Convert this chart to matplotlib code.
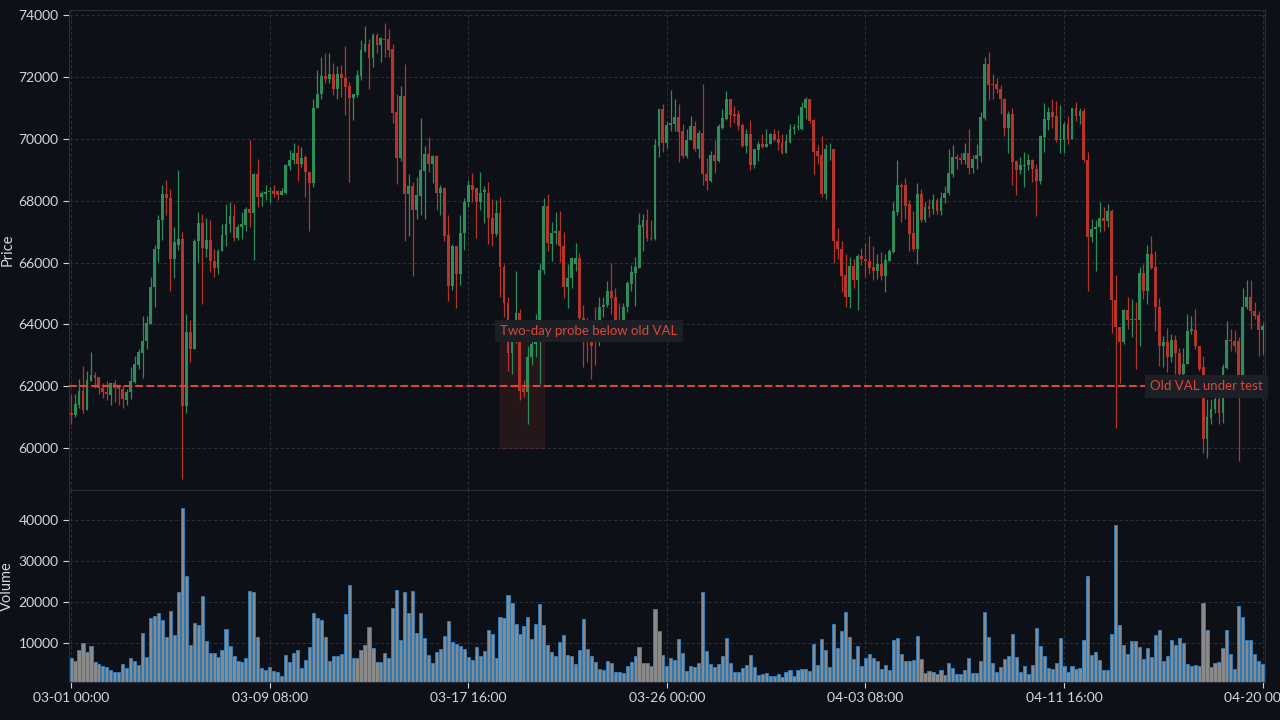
import matplotlib
matplotlib.use("Agg")
import matplotlib.pyplot as plt
import matplotlib.dates as mdates
from matplotlib.patches import Rectangle
import numpy as np
import pandas as pd

# 4h candles, 03-01 00:00 .. 04-20 00:00
times = pd.date_range("2024-03-01 00:00", "2024-04-20 00:00", freq="4h")

opens = [
    61130, 61070, 61400, 61850, 61230, 62170, 62370, 62300, 61960, 61830,
    61720, 62090, 61970, 61900, 61560, 61830, 62150, 62690, 63090, 63450,
    64010, 65200, 66440, 67360, 68220, 68090, 66100, 66570, 66760, 61360,
    63740, 63220, 66680, 67290, 66440, 66740, 66060, 65810, 66380, 66880,
    67230, 67490, 66790, 67140, 67200, 67740, 67600, 68850, 68120, 68230,
    68280, 68300, 68300, 68170, 68250, 69120, 69300, 69550, 69190, 69400,
    68920, 68570, 71010, 71460, 72020, 71930, 72090, 71610, 72110, 71980,
    71700, 71320, 71410, 72020, 72830, 73060, 72620, 73350, 73030, 73240,
    73210, 72890, 70860, 69380, 71380, 68200, 68460, 67710, 68150, 68960,
    69500, 69170, 69440, 68240, 68400, 66890, 65250, 66550, 65630, 66950,
    67950, 68520, 68400, 67950, 68280, 68250, 67440, 66930, 67610, 65870,
    64700, 63060, 63600, 64370, 61960, 61830, 62930, 63360, 63900, 65760,
    67840, 66610, 66960, 67030, 66550, 65200, 65500, 65950, 66150, 64200,
    63700, 63500, 63800, 63500, 64570, 64640, 65090, 64870, 64100, 63900,
    64560, 65310, 65660, 65810, 67160, 67360, 66800, 66760, 69770, 70950,
    69860, 70430, 70470, 70690, 70240, 69430, 69970, 70400, 69680, 70200,
    68870, 68620, 69460, 69270, 70360, 70640, 71280, 70790, 70790, 70440,
    69760, 70140, 69140, 69630, 69840, 69750, 69820, 70170, 70000, 69860,
    69550, 69900, 70300, 70380, 70330, 71010, 71280, 70600, 69600, 69460,
    68200, 69660, 69660, 66710, 66440, 65610, 64870, 65900, 65440, 66220,
    66130, 66060, 65850, 65740, 65960, 65580, 66060, 66330, 67630, 68510,
    68490, 67880, 66950, 66440, 68200, 67380, 67820, 67740, 68010, 67660,
    68090, 68240, 68850, 69410, 69390, 69330, 69540, 69050, 69360, 69440,
    70670, 72410, 71780, 71760, 71620, 71280, 70350, 70790, 69280, 68980,
    69120, 69140, 69330, 69030, 68620, 70060, 70600, 70850, 70730, 69960,
    69970, 70470, 70000, 70980, 70730, 70890, 69330, 66820, 67090, 67140,
    67440, 67340, 67680, 64790, 63920, 63420, 64460, 64140, 64170, 64140,
    65670, 65090, 66260, 65870, 64570, 63290, 63420, 62930, 63490, 63090,
    62400, 62710, 63790, 63820, 63310, 62610, 60280, 60990, 61260, 61580,
    61150, 62580, 63490, 63450, 63470, 62200, 64550, 64870, 64440, 64310,
    63820,
]
highs = [
    61740, 61740, 62230, 62660, 62500, 63110, 62450, 62300, 62090, 62175,
    62120, 62200, 62030, 62030, 61900, 62610, 62980, 63200, 64280, 64280,
    65540, 66580, 67520, 68490, 68680, 68380, 67140, 69000, 67000, 64350,
    64140, 66760, 67630, 67570, 67440, 67360, 66440, 66440, 67250, 67900,
    67950, 67900, 67250, 67630, 67790, 69970, 68900, 69360, 68300, 68510,
    68440, 68490, 68330, 68420, 69190, 69650, 69860, 69810, 69750, 69460,
    68920, 71300, 72220, 72650, 72780, 72760, 72450, 72350, 72380, 73000,
    71840, 71460, 72220, 73190, 73640, 73210, 73410, 73430, 73280, 73750,
    73540, 73060, 71460, 71700, 72410, 68850, 68600, 68760, 70670, 69770,
    70060, 69460, 69460, 68490, 68440, 67550, 66600, 66550, 67520, 68090,
    68670, 68900, 68400, 68920, 68470, 68600, 68060, 68010, 68110, 65950,
    64900, 63800, 65740, 64500, 62200, 63300, 63500, 64350, 65980, 68090,
    68220, 67300, 67630, 67660, 66980, 65950, 66170, 66620, 66300, 64640,
    64200, 64000, 64550, 64870, 64870, 65410, 65980, 65180, 64700, 64700,
    65400, 65920, 66190, 67610, 67570, 67740, 67360, 70000, 70970, 71140,
    70570, 71570, 71270, 71140, 70490, 70300, 70730, 70570, 70270, 71760,
    69390, 69600, 69970, 70470, 70950, 71550, 71300, 71050, 70920, 70510,
    70300, 70620, 69680, 69930, 70170, 70300, 70190, 70330, 70270, 70140,
    70170, 70470, 70470, 70760, 71190, 71350, 71280, 70650, 69790, 70080,
    69820, 69860, 69660, 67120, 66710, 66260, 66170, 66120, 66280, 66470,
    66620, 66870, 66520, 66280, 66330, 66280, 66440, 67950, 69300, 68570,
    68740, 68030, 67660, 68570, 68380, 67950, 68060, 68220, 68090, 68280,
    68460, 69680, 69790, 69520, 69540, 69860, 70330, 69460, 69840, 70850,
    72630, 72790, 72110, 71980, 71730, 71330, 70900, 70980, 69320, 69410,
    69570, 69520, 69360, 69170, 70110, 71160, 71030, 71300, 71220, 71080,
    70540, 70740, 70980, 71190, 70980, 70980, 69570, 67410, 67360, 67950,
    67810, 67880, 67740, 65610, 63920, 64500, 64870, 64820, 64710, 65850,
    65950, 66570, 66870, 66370, 64850, 63630, 63880, 63690, 63650, 63250,
    63250, 64330, 64280, 64500, 63310, 62990, 61580, 61580, 61740, 61740,
    62710, 64100, 63850, 63820, 63600, 65180, 65440, 65440, 64710, 64440,
    64060,
]
lows = [
    60770, 61010, 61290, 61120, 61230, 62170, 61960, 61740, 61630, 61550,
    61410, 61490, 61410, 61290, 61400, 61590, 62120, 62560, 62280, 63200,
    64010, 64550, 66010, 66730, 67520, 65090, 65500, 66390, 58990, 61150,
    62790, 63220, 66010, 64660, 66190, 65680, 65520, 65630, 66360, 66530,
    66980, 66700, 66730, 66760, 67030, 67140, 66080, 67790, 67840, 68010,
    67920, 68120, 68010, 68170, 68220, 68990, 69190, 68650, 69080, 68110,
    67030, 68440, 71010, 71300, 71790, 71810, 71410, 71300, 71350, 70760,
    68600, 70600, 71350, 71890, 72810, 71620, 72330, 72780, 72490, 72650,
    72650, 70510, 68550, 69280, 66710, 66870, 65580, 67410, 67520, 67410,
    68920, 68570, 67700, 67520, 66690, 64770, 65110, 64530, 65280, 66410,
    67790, 67950, 66800, 67700, 67270, 66600, 66550, 66870, 64870, 64230,
    62500, 62390, 63400, 61550, 61650, 60770, 62700, 62960, 62070, 65630,
    66370, 66040, 66610, 66010, 64850, 64530, 65170, 65740, 63800, 62610,
    62770, 62230, 62700, 63300, 64250, 64570, 64340, 63600, 63700, 63800,
    64400, 65070, 64600, 65810, 66380, 66700, 66730, 66730, 69410, 69570,
    69710, 70260, 70250, 69250, 69390, 69390, 69950, 69600, 69390, 68510,
    68350, 68600, 68890, 69250, 70300, 70620, 70380, 70510, 70270, 69730,
    69540, 68980, 69060, 69280, 69710, 69730, 69820, 69930, 69650, 69500,
    69550, 69860, 70140, 70290, 70290, 70650, 70510, 68870, 69170, 68130,
    68060, 69320, 65980, 66120, 65040, 64570, 64530, 65180, 64460, 65930,
    65540, 65630, 65430, 65470, 65440, 65040, 66040, 66300, 67520, 67300,
    67410, 66370, 66370, 65950, 67300, 67300, 67460, 67570, 67570, 67520,
    67930, 68170, 68780, 69030, 69190, 69170, 68850, 68890, 69030, 69250,
    70620, 71250, 71300, 71480, 70810, 70080, 69540, 68510, 68190, 68870,
    68440, 68980, 68600, 67500, 68550, 69570, 70270, 70360, 69900, 69540,
    69540, 69820, 69990, 70580, 70490, 69250, 65070, 66660, 65720, 66980,
    67030, 67140, 63710, 60640, 62120, 63360, 63850, 63580, 62550, 63310,
    64820, 64660, 65790, 63790, 62660, 62610, 62450, 62770, 62390, 62100,
    62000, 62710, 63680, 63200, 62500, 59850, 59670, 60770, 61150, 60790,
    60820, 62550, 63150, 63100, 59580, 62100, 64490, 63850, 64170, 62990,
    63040,
]
closes = [
    61080, 61420, 61850, 61230, 62210, 62370, 62280, 61960, 61800, 61740,
    62090, 61960, 61900, 61580, 61830, 62170, 62710, 63120, 63470, 64060,
    65220, 66440, 67390, 68220, 68080, 66100, 66650, 66760, 61360, 63740,
    63220, 66680, 67290, 66460, 66740, 66040, 65810, 66380, 66890, 67250,
    67490, 66790, 67160, 67230, 67740, 67600, 68850, 68120, 68240, 68290,
    68300, 68230, 68170, 68300, 69160, 69320, 69550, 69190, 69390, 68920,
    68570, 71010, 71460, 72020, 71930, 72090, 71610, 72110, 71980, 71670,
    71320, 71440, 72060, 72870, 73060, 72620, 73350, 73030, 73270, 73190,
    72870, 70840, 69380, 71380, 68200, 68460, 67710, 68170, 68980, 69500,
    69190, 69440, 68240, 68400, 66870, 65250, 66550, 65630, 66970, 67970,
    68520, 68360, 67950, 68240, 68340, 67430, 66930, 67610, 65850, 64680,
    63060, 63600, 64370, 61850, 61830, 62950, 63360, 64000, 65760, 67840,
    66620, 66960, 67030, 66530, 65200, 65500, 66140, 66150, 64200, 63700,
    63500, 63300, 63500, 64570, 64640, 65090, 64850, 64100, 63900, 64560,
    65330, 65680, 65850, 67200, 67360, 66790, 66760, 69790, 70950, 69860,
    70440, 70510, 70690, 70220, 69430, 69970, 70400, 69680, 70200, 68850,
    68620, 69460, 69270, 70400, 70660, 71280, 70760, 70750, 70400, 69760,
    70140, 69140, 69660, 69840, 69730, 69840, 70170, 69970, 69860, 69550,
    69920, 70310, 70380, 70400, 71030, 71280, 70580, 69570, 69430, 68200,
    69660, 69680, 66690, 66440, 65580, 64870, 65900, 65440, 66220, 66120,
    66040, 65810, 65740, 65960, 65580, 66080, 66370, 67650, 68490, 68440,
    67840, 66930, 66440, 68200, 67380, 67810, 67740, 68010, 67660, 68090,
    68250, 68890, 69410, 69350, 69330, 69540, 69050, 69360, 69460, 70710,
    72410, 71730, 71730, 71620, 71270, 70350, 70790, 69250, 68980, 69140,
    69140, 69330, 69030, 68620, 70080, 70630, 70850, 70710, 69970, 69990,
    70470, 70000, 70980, 70750, 70890, 69300, 66820, 67090, 67160, 67440,
    67340, 67680, 64790, 63900, 63420, 64460, 64140, 64170, 64140, 65670,
    65090, 66260, 65820, 64550, 63290, 63420, 62930, 63490, 63060, 62400,
    62710, 63790, 63840, 63310, 62550, 60280, 61010, 61260, 61580, 61150,
    62610, 63490, 63450, 63300, 62200, 64550, 64870, 64420, 64280, 63820,
    63960,
]
volumes = [
    6340, 5600, 8290, 10000, 7800, 9270, 5370, 4880, 4470, 4150,
    3410, 2930, 2930, 4880, 3900, 6500, 5600, 4720, 12440, 6590,
    16100, 16590, 17240, 15530, 11460, 17720, 11950, 22440, 42930, 26260,
    9510, 15040, 14390, 21380, 10650, 7560, 7720, 6590, 8460, 13580,
    9430, 6830, 5610, 5370, 6340, 22680, 22440, 11460, 3900, 3410,
    4150, 3170, 2930, 1950, 7070, 5370, 7560, 8290, 3900, 5850,
    9020, 17320, 16180, 15610, 11460, 5600, 6830, 6830, 7320, 17070,
    24070, 6340, 6340, 8290, 9510, 13900, 8780, 5370, 5370, 7560,
    6340, 18540, 22930, 10730, 22440, 17320, 22680, 12440, 17320, 11220,
    7070, 5120, 7800, 8540, 11710, 15370, 10240, 9760, 9270, 8500,
    6590, 5850, 9020, 6830, 8050, 13170, 12200, 6340, 16340, 16100,
    21710, 19760, 14630, 12200, 14150, 16340, 10980, 14630, 19510, 14390,
    9510, 7800, 6830, 10240, 11950, 7070, 6830, 4880, 8290, 15850,
    8540, 6830, 5370, 3660, 3410, 5610, 5120, 2930, 2930, 2680,
    4390, 5370, 6830, 9020, 5120, 5120, 4390, 18290, 12930, 7070,
    4390, 6340, 5850, 10980, 7560, 3170, 4390, 4150, 5120, 22440,
    8050, 4880, 4150, 4880, 6830, 11220, 5120, 2930, 2930, 3900,
    4630, 7070, 4150, 2200, 2440, 2680, 1950, 1950, 2440, 1710,
    2930, 3410, 1950, 3410, 3660, 3660, 3170, 9760, 4630, 10980,
    8290, 4150, 14630, 8780, 12930, 17560, 11460, 6100, 9270, 4390,
    6340, 7320, 6340, 5610, 3660, 4630, 3410, 10730, 11220, 7320,
    5610, 5610, 5850, 11710, 6100, 2680, 3170, 2930, 2440, 3410,
    2200, 5120, 3900, 2440, 2440, 3410, 6340, 2680, 2680, 5610,
    17560, 11460, 5120, 2930, 4150, 6100, 6830, 12200, 6590, 2930,
    4390, 2440, 4630, 13660, 9270, 6830, 3900, 3660, 5120, 11220,
    4390, 2930, 4390, 3660, 3900, 10730, 26260, 7070, 7800, 5850,
    3410, 3410, 12200, 38780, 14390, 9510, 7320, 10490, 10490, 9020,
    6100, 8780, 6590, 11950, 13170, 5610, 6830, 10730, 9510, 11220,
    10000, 4880, 4390, 4630, 4390, 19760, 13170, 4150, 5120, 5370,
    8780, 13170, 7320, 3660, 19020, 16340, 10730, 10730, 7320, 5610,
    4880,
]

old_val = 62000
probe_lo, probe_hi = 60000, 64000
probe_start, probe_end = 108, 119

BG = "#0d1016"
GRID = "#2a2e36"
TXT = "#d4d6da"
UP = "#2e8b5a"
DOWN = "#b5352a"
RED = "#d9493a"

plt.rcParams["font.family"] = ["Lato", "DejaVu Sans"]

x = mdates.date2num(times)
o = np.array(opens)
h = np.array(highs)
l = np.array(lows)
c = np.array(closes)
up = c >= o
cols = np.where(up, UP, DOWN)
step = x[1] - x[0]

fig, (ax, axv) = plt.subplots(2, 1, figsize=(12.8, 7.2), dpi=100, sharex=True,
                              gridspec_kw={"height_ratios": [2.5, 1], "hspace": 0})
fig.patch.set_facecolor(BG)
fig.subplots_adjust(left=0.054, right=0.988, top=0.986, bottom=0.053)

for a in (ax, axv):
    a.set_facecolor(BG)
    a.grid(True, color=GRID, linestyle=(0, (3, 2)), linewidth=0.8)
    a.set_axisbelow(True)
    for s in a.spines.values():
        s.set_color(GRID)
    a.tick_params(colors=TXT, labelsize=10, length=4)

# candles
ax.vlines(x, l, h, colors=cols, linewidth=0.9, zorder=2)
body = np.maximum(np.abs(c - o), 25)
ax.bar(x, body, bottom=np.minimum(o, c), width=step * 0.72, color=cols,
       linewidth=0, zorder=3)

ax.axhline(old_val, color=RED, linestyle="--", linewidth=1.5, zorder=4)
ax.add_patch(Rectangle((x[probe_start], probe_lo), x[probe_end] - x[probe_start],
                       probe_hi - probe_lo, facecolor=RED, alpha=0.12,
                       edgecolor=RED, linewidth=0.8, zorder=1))

box = dict(boxstyle="square,pad=0.4", facecolor="#1c1f26", edgecolor="none")
ax.text(x[probe_start], 63790, "Two-day probe below old VAL", color=RED,
        fontsize=9.5, ha="left", va="center", bbox=box, zorder=6)
ax.text(x[-1], old_val, "Old VAL under test", color=RED, fontsize=9.5,
        ha="right", va="center", bbox=box, zorder=6, clip_on=False)

ax.set_ylim(58650, 74160)
ax.set_yticks(np.arange(60000, 74001, 2000))
ax.set_ylabel("Price", color=TXT, fontsize=10.5)
ax.yaxis.set_label_coords(-0.046, 0.5)
ax.tick_params(axis="x", length=0, labelbottom=False)

# volume
axv.bar(x, volumes, width=step * 0.8, color="#8a8a8a", edgecolor="#2b7bba",
        linewidth=0.7, zorder=2)
axv.set_ylim(650, 47200)
axv.set_yticks([10000, 20000, 30000, 40000])
axv.set_ylabel("Volume", color=TXT, fontsize=10.5)
axv.yaxis.set_label_coords(-0.046, 0.5)

axv.set_xlim(x[0] - step * 0.5, x[-1] + step * 0.5)
axv.set_xticks(x[::50])
axv.xaxis.set_major_formatter(mdates.DateFormatter("%m-%d %H:%M"))

fig.savefig("out.png", dpi=100, facecolor=BG)
